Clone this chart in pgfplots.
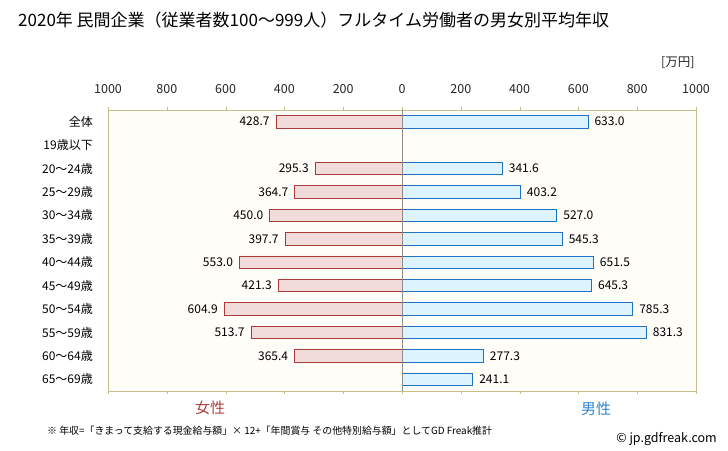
\documentclass[border=0pt]{standalone}
\usepackage{fontspec}
\setmainfont{Noto Sans CJK JP}
\usepackage{pgfplots}
\pgfplotsset{compat=1.18}

\definecolor{frametan}{HTML}{C8BC8C}
\definecolor{bgcream}{HTML}{FFFDF8}
\definecolor{femfill}{HTML}{F2DCDB}
\definecolor{femdraw}{HTML}{A83A3A}
\definecolor{malfill}{HTML}{DDF3FD}
\definecolor{maldraw}{HTML}{1F72C4}
\definecolor{femtext}{HTML}{A84444}
\definecolor{maltext}{HTML}{2E86D0}

\begin{document}
\begin{tikzpicture}
\path[use as bounding box, fill=white] (0,0) rectangle (728bp,451bp);

\node[anchor=west, font=\fontsize{17bp}{19bp}\selectfont, inner sep=0pt] at (18bp,431bp)
  {2020年 民間企業（従業者数100～999人）フルタイム労働者の男女別平均年収};

\begin{axis}[
    at={(108bp,60bp)}, anchor=south west,
    scale only axis,
    width=588bp, height=281bp,
    xmin=-1000, xmax=1000,
    ymin=-0.5, ymax=11.5,
    y dir=reverse,
    xbar, bar shift=0pt, bar width=12.5bp,
    axis line style={frametan},
    axis background/.style={fill=bgcream},
    xtick={-1000,-800,-600,-400,-200,0,200,400,600,800,1000},
    xticklabels={1000,800,600,400,200,0,200,400,600,800,1000},
    xticklabel pos=right,
    tick align=outside,
    major tick length=3bp,
    x tick style={frametan},
    xticklabel style={font=\fontsize{12.5bp}{14bp}\selectfont, text=black!85, yshift=10bp},
    ytick={0,1,2,3,4,5,6,7,8,9,10,11},
    yticklabels={全体,19歳以下,20～24歳,25～29歳,30～34歳,35～39歳,40～44歳,45～49歳,50～54歳,55～59歳,60～64歳,65～69歳},
    y tick style={draw=none},
    yticklabel style={font=\fontsize{12bp}{14bp}\selectfont, text=black, inner sep=0pt, xshift=-12bp},
    /pgf/number format/assume math mode=true,
    nodes near coords,
    nodes near coords style={font=\fontsize{12bp}{14bp}\selectfont, text=black, inner sep=0pt,
      /pgf/number format/fixed, /pgf/number format/fixed zerofill, /pgf/number format/precision=1},
    clip=false,
]
% female (drawn to the left)
\addplot[draw=femdraw, fill=femfill, line width=0.9pt, point meta=-x,
  every node near coord/.append style={anchor=east, xshift=-6bp}]
  coordinates {
    (-428.7,0) (-295.3,2) (-364.7,3) (-450.0,4) (-397.7,5) (-553.0,6)
    (-421.3,7) (-604.9,8) (-513.7,9) (-365.4,10)
  };
% male (drawn to the right)
\addplot[draw=maldraw, fill=malfill, line width=0.9pt, point meta=x,
  every node near coord/.append style={anchor=west, xshift=6bp}]
  coordinates {
    (633.0,0) (341.6,2) (403.2,3) (527.0,4) (545.3,5) (651.5,6)
    (645.3,7) (785.3,8) (831.3,9) (277.3,10) (241.1,11)
  };
\draw[gray!90, line width=0.8pt] (rel axis cs:0.5,0) -- (rel axis cs:0.5,1);
\end{axis}

\node[anchor=east, font=\fontsize{12.5bp}{14bp}\selectfont, text=black!85] at (698bp,388bp) {[万円]};
\node[font=\fontsize{15bp}{17bp}\selectfont, text=femtext] at (210bp,43bp) {女性};
\node[font=\fontsize{15bp}{17bp}\selectfont, text=maltext] at (596bp,42bp) {男性};
\node[anchor=west, font=\fontsize{9.9bp}{11bp}\selectfont, inner sep=0pt] at (47bp,20bp)
  {※ 年収=「きまって支給する現金給与額」× 12+「年間賞与 その他特別給与額」としてGD Freak推計};
\node[anchor=east, font=\fontsize{12.5bp}{14bp}\selectfont, inner sep=0pt] at (717bp,12bp) {© jp.gdfreak.com};
\end{tikzpicture}
\end{document}
